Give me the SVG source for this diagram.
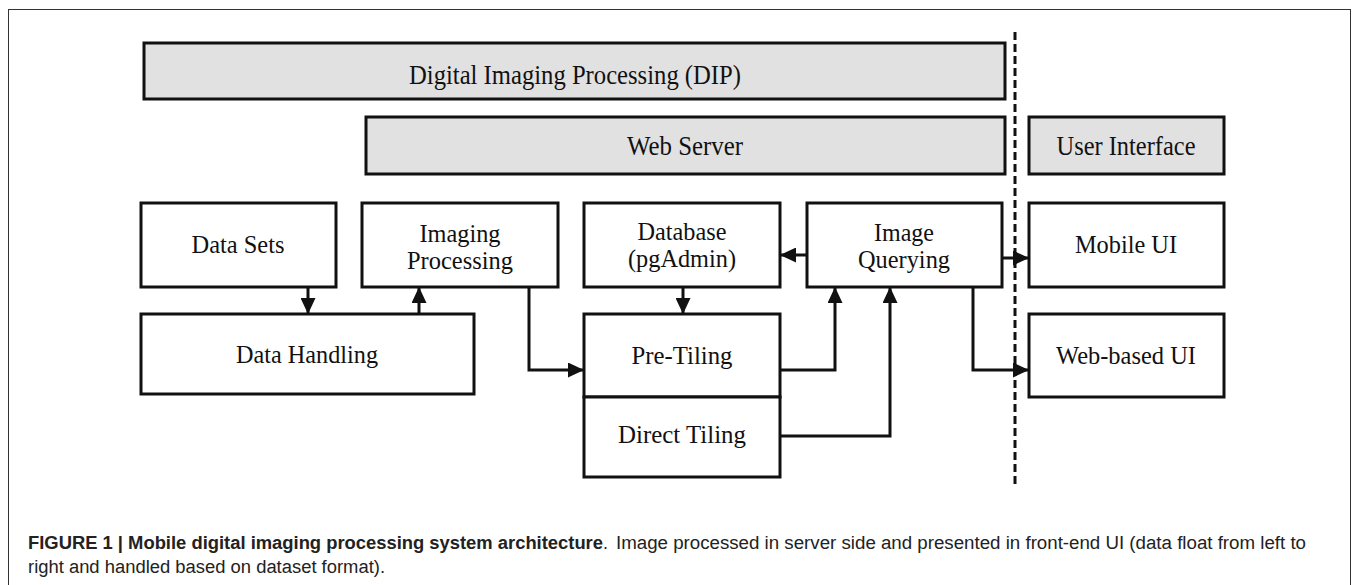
<svg xmlns="http://www.w3.org/2000/svg" width="1357" height="585" viewBox="0 0 1357 585">
<style>
.box{fill:#fff;stroke:#111;stroke-width:3}
.hdr{fill:#e1e1e1;stroke:#111;stroke-width:3}
.t{font-family:"Liberation Serif","Times New Roman",serif;font-size:26px;fill:#111;text-anchor:middle}
.th{font-family:"Liberation Serif","Times New Roman",serif;font-size:27px;fill:#111;text-anchor:middle}
.conn{fill:none;stroke:#111;stroke-width:3}
.cap{font-family:"Liberation Sans Narrow","Liberation Sans",Arial,sans-serif;font-size:18px;fill:#222}
</style>
<defs>
<marker id="ah" markerWidth="16" markerHeight="15" refX="15" refY="7.5" orient="auto" markerUnits="userSpaceOnUse">
<path d="M0,0 L16,7.5 L0,15 z" fill="#111"/>
</marker>
</defs>
<rect x="8.5" y="9.5" width="1342" height="600" fill="#fff" stroke="#333" stroke-width="1"/>
<line x1="1015" y1="32" x2="1015" y2="488" stroke="#111" stroke-width="3" stroke-dasharray="8,4"/>
<g id="dip"><rect class="hdr" x="144" y="43" width="861" height="56"/><text class="th" x="575" y="84" textLength="332" lengthAdjust="spacingAndGlyphs">Digital Imaging Processing (DIP)</text></g>
<g id="webserver"><rect class="hdr" x="366" y="117" width="639" height="57"/><text class="th" x="685" y="155" textLength="116" lengthAdjust="spacingAndGlyphs">Web Server</text></g>
<g id="userinterface"><rect class="hdr" x="1029" y="117" width="195" height="57"/><text class="th" x="1126" y="155" textLength="139" lengthAdjust="spacingAndGlyphs">User Interface</text></g>
<g id="datasets"><rect class="box" x="141" y="203" width="195" height="84"/><text class="t" x="238" y="253" textLength="93" lengthAdjust="spacingAndGlyphs">Data Sets</text></g>
<g id="imaging"><rect class="box" x="362" y="203" width="196" height="84"/><text class="t" x="460" y="242" textLength="81" lengthAdjust="spacingAndGlyphs">Imaging</text><text class="t" x="460" y="269" textLength="106" lengthAdjust="spacingAndGlyphs">Processing</text></g>
<g id="database"><rect class="box" x="584" y="203" width="196" height="84"/><text class="t" x="682" y="240" textLength="89" lengthAdjust="spacingAndGlyphs">Database</text><text class="t" x="682" y="267" textLength="108" lengthAdjust="spacingAndGlyphs">(pgAdmin)</text></g>
<g id="querying"><rect class="box" x="807" y="203" width="195" height="84"/><text class="t" x="904" y="241" textLength="60" lengthAdjust="spacingAndGlyphs">Image</text><text class="t" x="904" y="268" textLength="92" lengthAdjust="spacingAndGlyphs">Querying</text></g>
<g id="mobileui"><rect class="box" x="1029" y="203" width="195" height="84"/><text class="t" x="1126" y="253" textLength="102" lengthAdjust="spacingAndGlyphs">Mobile UI</text></g>
<g id="datahandling"><rect class="box" x="141" y="314" width="333" height="80"/><text class="t" x="307" y="363" textLength="142" lengthAdjust="spacingAndGlyphs">Data Handling</text></g>
<g id="pretiling"><rect class="box" x="584" y="314" width="196" height="83"/><text class="t" x="682" y="364" textLength="101" lengthAdjust="spacingAndGlyphs">Pre-Tiling</text></g>
<g id="directtiling"><rect class="box" x="584" y="397" width="196" height="80"/><text class="t" x="682" y="443" textLength="128" lengthAdjust="spacingAndGlyphs">Direct Tiling</text></g>
<g id="webui"><rect class="box" x="1029" y="314" width="195" height="83"/><text class="t" x="1126" y="364" textLength="140" lengthAdjust="spacingAndGlyphs">Web-based UI</text></g>
<g id="connectors">
<path class="conn" d="M308,287 V313" marker-end="url(#ah)"/>
<path class="conn" d="M419,314 V288" marker-end="url(#ah)"/>
<path class="conn" d="M529,287 V370 H583" marker-end="url(#ah)"/>
<path class="conn" d="M683,287 V313" marker-end="url(#ah)"/>
<path class="conn" d="M807,255 H781" marker-end="url(#ah)"/>
<path class="conn" d="M1002,258 H1028" marker-end="url(#ah)"/>
<path class="conn" d="M780,370 H835 V288" marker-end="url(#ah)"/>
<path class="conn" d="M780,436 H890 V288" marker-end="url(#ah)"/>
<path class="conn" d="M973,287 V370 H1028" marker-end="url(#ah)"/>
</g>
<text class="cap" x="28" y="549" font-weight="bold" textLength="575" lengthAdjust="spacingAndGlyphs">FIGURE 1 | Mobile digital imaging processing system architecture</text>
<text class="cap" x="603" y="549">.</text>
<text class="cap" x="616" y="549" textLength="690" lengthAdjust="spacingAndGlyphs">Image processed in server side and presented in front-end UI (data float from left to</text>
<text class="cap" x="28" y="573" textLength="357" lengthAdjust="spacingAndGlyphs">right and handled based on dataset format).</text>
</svg>
